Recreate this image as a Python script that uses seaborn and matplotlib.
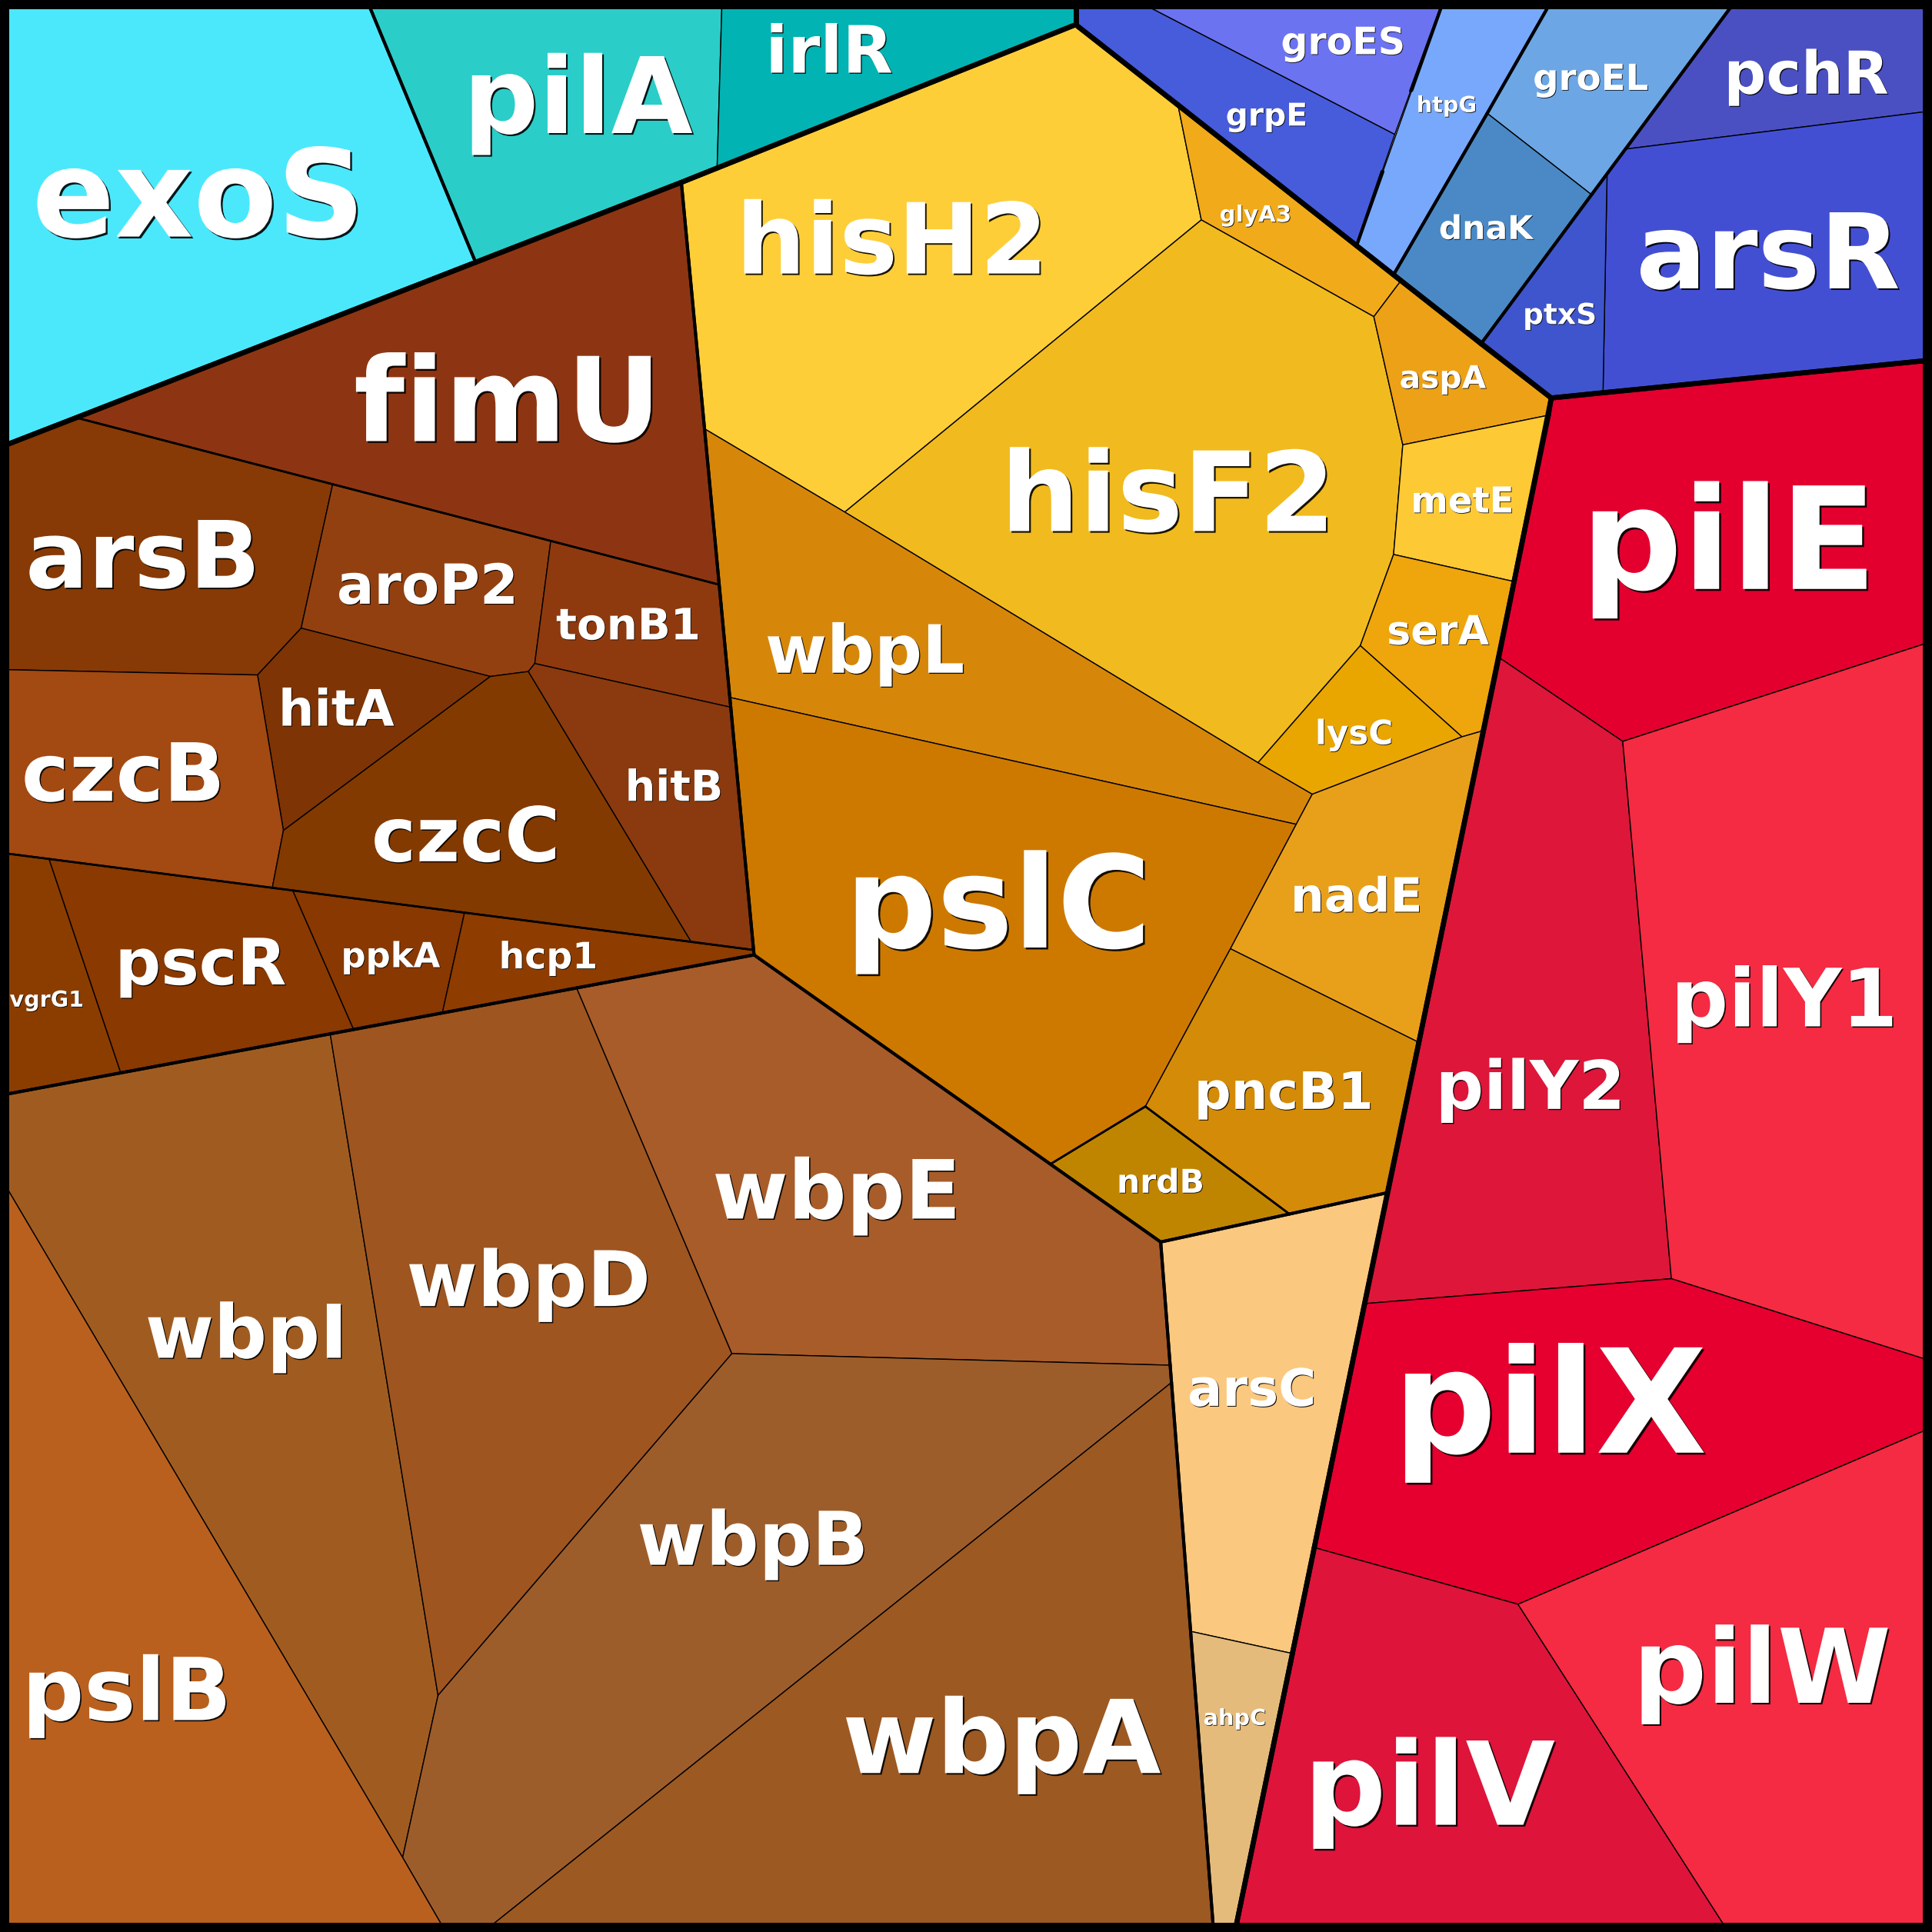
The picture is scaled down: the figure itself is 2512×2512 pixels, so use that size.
import numpy as np
import matplotlib
matplotlib.use("Agg")
import matplotlib.pyplot as plt
import matplotlib.patheffects as pe
from matplotlib.path import Path
from matplotlib.collections import PolyCollection, LineCollection
from matplotlib.patches import Rectangle
import seaborn as sns

# ---------------- data: hierarchy of genes ----------------
GENES = ["exoS", "pilA", "irlR",
         "fimU", "arsB", "aroP2", "tonB1", "hitA", "czcB", "czcC", "hitB",
         "vgrG1", "pscR", "ppkA", "hcp1",
         "wbpI", "wbpD", "wbpE", "wbpB", "wbpA", "pslB",
         "arsC", "ahpC",
         "hisH2", "glyA3", "hisF2", "aspA", "metE", "serA", "lysC", "wbpL",
         "pslC", "nadE", "pncB1", "nrdB",
         "grpE", "groES", "htpG", "groEL", "dnaK", "pchR", "arsR", "ptxS",
         "pilE", "pilY2", "pilY1", "pilX", "pilV", "pilW"]
GROUP = (["cyan"] * 3 + ["core"] * 32 + ["blue"] * 8 + ["red"] * 6)
SUBGROUP = (["A", "B", "B"]
            + ["fim"] * 12 + ["wbp"] * 6 + ["ars"] * 2 + ["his"] * 12
            + ["gro1", "gro1", "htp", "gro2", "gro2", "reg", "reg", "reg"]
            + ["pil"] * 6)
CLUSTER = (["a1", "b1", "b1"]
           + ["f1"] + ["f2"] * 7 + ["f3"] * 4
           + ["w1"] * 6 + ["a1"] * 2
           + ["h1"] * 11 + ["h2"]
           + ["g1", "g1", "t1", "k1", "k1", "r1", "r1", "r1"]
           + ["p1"] * 6)
COLORS = ["#4BE8FC", "#2BCDC8", "#02B3B3",
          "#8D3512", "#873A06", "#934010", "#8E3A0E", "#7E3404", "#A34912", "#833A00", "#8A3A0E",
          "#8B3D00", "#8A3900", "#883800", "#8E3C00",
          "#A05C20", "#9E5520", "#A85C29", "#9D5D2B", "#9C5922", "#B9601E",
          "#FAC87E", "#E4BB7B",
          "#FECE39", "#F1AA19", "#F1BA1E", "#EDA116", "#FDC935", "#EEA60C", "#E9A500", "#D6870A",
          "#CD7900", "#E8A01B", "#D48B07", "#C08500",
          "#465CDB", "#6B73F0", "#78A8FC", "#6CA6E4", "#4A89C5", "#4A50C2", "#434FD3", "#3E55CD",
          "#E3002F", "#DD163A", "#F42B42", "#E5002F", "#DE143B", "#F42B42"]

# ---------------- layout (Voronoi treemap cells, canvas 0..1568) ----------------
CELL_POLYGONS = [
    [(0, 0), (297.7, 0), (386, 212.9), (0, 363)],                                   # exoS
    [(297.7, 0), (586, 0), (582, 136.4), (553, 148), (386, 212.9)],                 # pilA
    [(586, 0), (873, 0), (873, 20), (582, 136.4)],                                  # irlR
    [(62, 339), (386, 212.9), (553, 148), (583.7, 474.5), (447, 439), (270, 393)],  # fimU
    [(0, 363), (62, 339), (270, 393), (244.4, 509.8), (209, 547.8), (0, 543.4)],    # arsB
    [(270, 393), (447, 439), (434, 538.5), (428.8, 545), (398, 549), (244.4, 509.8)],  # aroP2
    [(447, 439), (583.7, 474.5), (593.1, 574), (434, 538.5)],                       # tonB1
    [(244.4, 509.8), (398, 549), (230, 674), (209, 547.8)],                         # hitA
    [(0, 543.4), (209, 547.8), (230, 674), (221, 720.5), (0, 692)],                 # czcB
    [(398, 549), (428.8, 545), (561, 764.4), (221, 720.5), (230, 674)],             # czcC
    [(434, 538.5), (593.1, 574), (611.6, 771), (561, 764.4), (428.8, 545)],         # hitB
    [(0, 692), (39.8, 697.1), (98, 870.7), (0, 889)],                               # vgrG1
    [(39.8, 697.1), (237.6, 722.7), (287, 835.5), (98, 870.7)],                     # pscR
    [(237.6, 722.7), (377, 740.7), (359, 822.1), (287, 835.5)],                     # ppkA
    [(377, 740.7), (561, 764.4), (611.6, 771), (612, 775), (359, 822.1)],           # hcp1
    [(0, 889), (268, 839.1), (355.5, 1376), (326.8, 1507.6), (0, 954.7)],           # wbpI
    [(268, 839.1), (468, 801.8), (594, 1098.6), (355.5, 1376)],                     # wbpD
    [(468, 801.8), (612, 775), (942, 1008), (949.7, 1108), (594, 1098.6)],          # wbpE
    [(355.5, 1376), (594, 1098.6), (949.7, 1108), (950.8, 1122), (392.2, 1568),
     (361.8, 1568), (326.8, 1507.6)],                                               # wbpB
    [(392.2, 1568), (950.8, 1122), (985, 1568)],                                    # wbpA
    [(0, 954.7), (326.8, 1507.6), (361.8, 1568), (0, 1568)],                        # pslB
    [(942, 1008), (1126, 968), (1048.9, 1342), (966.3, 1324)],                      # arsC
    [(966.3, 1324), (1048.9, 1342), (1002.2, 1568), (985, 1568)],                   # ahpC
    [(553, 148), (873, 20), (956, 85), (975, 178.5), (685.6, 415.6), (571.8, 348)],  # hisH2
    [(956, 85), (1137, 227.8), (1115, 257), (975, 178.5)],                          # glyA3
    [(975, 178.5), (1115, 257), (1138.5, 361), (1131, 450), (1104, 524), (1021, 619),
     (685.6, 415.6)],                                                               # hisF2
    [(1137, 227.8), (1259, 323), (1256.7, 337), (1138.5, 361), (1115, 257)],        # aspA
    [(1138.5, 361), (1256.7, 337), (1228.8, 472), (1131, 450)],                     # metE
    [(1131, 450), (1228.8, 472), (1203.8, 593), (1186.5, 598), (1104, 524)],        # serA
    [(1104, 524), (1186.5, 598), (1065, 644.6), (1021, 619)],                       # lysC
    [(571.8, 348), (685.6, 415.6), (1021, 619), (1065, 644.6), (1052, 669), (592.3, 566)],  # wbpL
    [(592.3, 566), (1052, 669), (998.6, 770), (929.6, 898), (852.5, 944.8), (612, 775)],  # pslC
    [(1065, 644.6), (1186.5, 598), (1203.8, 593), (1151.5, 846), (998.6, 770), (1052, 669)],  # nadE
    [(998.6, 770), (1151.5, 846), (1126, 968), (1046.5, 985.3), (929.6, 898)],      # pncB1
    [(929.6, 898), (1046.5, 985.3), (942, 1008), (852.5, 944.8)],                   # nrdB
    [(873, 0), (921.6, 0), (1132, 109), (1101, 199.4), (873, 20)],                  # grpE
    [(921.6, 0), (1171.8, 0), (1132, 109)],                                         # groES
    [(1171.8, 0), (1259.6, 0), (1207, 92), (1131, 223), (1101, 199.4)],             # htpG
    [(1259.6, 0), (1409, 0), (1319.2, 121), (1304.3, 141), (1291.7, 158), (1207, 92)],  # groEL
    [(1207, 92), (1291.7, 158), (1202, 279), (1131, 223)],                          # dnaK
    [(1409, 0), (1568, 0), (1568, 90), (1319.2, 121)],                              # pchR
    [(1319.2, 121), (1568, 90), (1568, 292.2), (1301, 318.7), (1304.3, 141)],       # arsR
    [(1304.3, 141), (1301, 318.7), (1259, 323), (1202, 279), (1291.7, 158)],        # ptxS
    [(1259, 323), (1568, 292.2), (1568, 520.6), (1317, 601.7), (1216.4, 533.5)],    # pilE
    [(1216.4, 533.5), (1317, 601.7), (1356.5, 1037.8), (1107.6, 1058)],             # pilY2
    [(1317, 601.7), (1568, 520.6), (1568, 1104.8), (1356.5, 1037.8)],               # pilY1
    [(1107.6, 1058), (1356.5, 1037.8), (1568, 1104.8), (1568, 1158.5), (1232, 1302),
     (1066.7, 1256)],                                                               # pilX
    [(1066.7, 1256), (1232, 1302), (1402.8, 1568), (1002.2, 1568)],                 # pilV
    [(1232, 1302), (1568, 1158.5), (1568, 1568), (1402.8, 1568)],                   # pilW
]
LABEL_X = [161, 469, 673,
           412, 116, 347, 510, 273, 100, 378, 547,
           38, 163, 317, 445,
           200, 429, 679, 611, 813, 103,
           1016, 1002,
           724, 1019, 948, 1171, 1187, 1167, 1099, 702,
           810, 1101, 1042, 942,
           1028, 1090, 1174, 1291, 1206, 1466, 1435, 1266,
           1403, 1242, 1448, 1258, 1160, 1430]
LABEL_Y = [192, 108, 59,
           358, 477, 490, 519, 589, 650, 699, 650,
           817, 799, 785, 786,
           1102, 1060, 989, 1270, 1439, 1396,
           1141, 1400,
           222, 180, 431, 315, 416, 523, 604, 546,
           769, 740, 900, 968,
           102, 44, 91, 73, 194, 76, 234, 263,
           478, 900, 833, 1179, 1481, 1382]
LABEL_EM = [97, 84, 52,
            93, 74, 44, 34.5, 40, 64, 60, 34,
            17.5, 51, 27.5, 29,
            59, 61, 65, 59, 81, 69,
            41, 17.6,
            78, 18, 88, 25, 28.5, 32, 26.7, 53,
            102, 37.7, 41, 26,
            25, 30, 17.6, 28.6, 26, 47, 83, 23,
            113, 53.5, 64, 115, 92, 82]

# ---------------- style ----------------
CANVAS = 1568.0
OUT_PX = 2512
DPI = 100
SCALE = OUT_PX / CANVAS
PX2PT = 72.0 / DPI
FONT_ADJ = 1.02
W_BORDER = 12 * PX2PT
W_DEPTH = {0: 6.5 * PX2PT, 1: 4.0 * PX2PT, 2: 2.6 * PX2PT}
W_LEAF = 1.4 * PX2PT

sns.set_theme(style="white")
plt.rcParams["font.family"] = ["DejaVu Sans"]

fig = plt.figure(figsize=(OUT_PX / DPI, OUT_PX / DPI), dpi=DPI)
ax = fig.add_axes([0, 0, 1, 1])
ax.set_xlim(0, CANVAS)
ax.set_ylim(CANVAS, 0)
ax.set_axis_off()

polys = [np.array(p, float) for p in CELL_POLYGONS]
ax.add_collection(PolyCollection(polys, facecolors=COLORS, edgecolors="black",
                                 linewidths=W_LEAF, zorder=1))

# ---------------- hierarchy boundaries ----------------
paths = [Path(p) for p in polys]
hier = list(zip(GROUP, SUBGROUP, CLUSTER, GENES))


def common_depth(i, j):
    d = 0
    for a, b in zip(hier[i], hier[j]):
        if a != b:
            break
        d += 1
    return d


samples, meta = [], []
for i, p in enumerate(polys):
    n = len(p)
    for k in range(n):
        a, b = p[k], p[(k + 1) % n]
        L = float(np.hypot(*(b - a)))
        if L < 1e-6:
            continue
        m = max(1, int(np.ceil(L / 2.0)))
        nrm = np.array([-(b - a)[1], (b - a)[0]]) / L
        for s in range(m):
            mid = a + (b - a) * (s + 0.5) / m
            samples.append(mid + nrm * 0.7)
            samples.append(mid - nrm * 0.7)
            meta.append((i, k, s, m))
samples = np.array(samples)
owner = np.full(len(samples), -1)
for j, path in enumerate(paths):
    mask = path.contains_points(samples)
    owner[mask & (owner == -1)] = j

piece_w = {}
for q, (i, k, s, m) in enumerate(meta):
    o1, o2 = owner[2 * q], owner[2 * q + 1]
    other = o2 if o1 == i else o1
    w = None
    if other >= 0 and other != i:
        d = common_depth(i, other)
        if d in W_DEPTH:
            w = W_DEPTH[d]
    piece_w.setdefault((i, k, m), []).append(w)

segs = {w: [] for w in W_DEPTH.values()}
for (i, k, m), ws in piece_w.items():
    p = polys[i]
    a, b = p[k], p[(k + 1) % len(p)]
    start = 0
    for s in range(1, m + 1):
        if s == m or ws[s] != ws[start]:
            if ws[start] is not None:
                t0, t1 = start / m, s / m
                segs[ws[start]].append([a + (b - a) * t0, a + (b - a) * t1])
            start = s

for z, w in enumerate(sorted(segs)):
    if segs[w]:
        ax.add_collection(LineCollection(segs[w], colors="black", linewidths=w,
                                         capstyle="round", joinstyle="round",
                                         zorder=2 + z))

ax.add_patch(Rectangle((0, 0), CANVAS, CANVAS, fill=False, edgecolor="black",
                       linewidth=2 * W_BORDER, zorder=10))

# ---------------- labels ----------------
for g, x, y, em in zip(GENES, LABEL_X, LABEL_Y, LABEL_EM):
    fs = em * FONT_ADJ * SCALE * PX2PT
    off = float(np.clip(em * 0.018, 0.6, 1.8))
    ax.text(x, y, g, ha="center", va="baseline", fontsize=fs, fontweight="bold",
            color="white", zorder=20,
            path_effects=[pe.withSimplePatchShadow(offset=(off, -off),
                                                   shadow_rgbFace="black", alpha=0.9)])

fig.savefig("out.png", dpi=DPI)
